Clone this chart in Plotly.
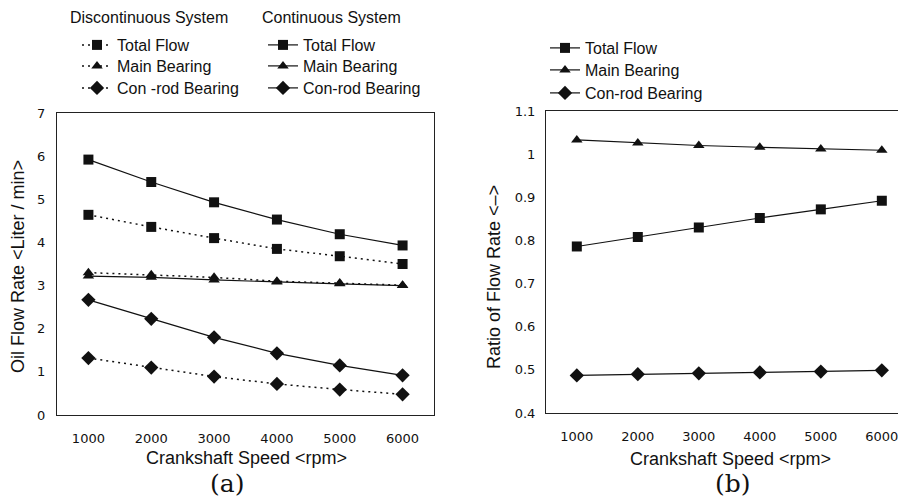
import plotly.graph_objects as go

speeds = [1000, 2000, 3000, 4000, 5000, 6000]
speed_labels = ["1000", "2000", "3000", "4000", "5000", "6000"]

# Panel (a): oil flow rate [L/min]
disc_total = [4.64, 4.36, 4.10, 3.85, 3.68, 3.50]
disc_main = [3.30, 3.25, 3.19, 3.10, 3.06, 3.01]
disc_conrod = [1.32, 1.10, 0.89, 0.72, 0.59, 0.48]
cont_total = [5.92, 5.40, 4.93, 4.53, 4.19, 3.93]
cont_main = [3.22, 3.19, 3.13, 3.08, 3.04, 3.00]
cont_conrod = [2.67, 2.23, 1.80, 1.43, 1.15, 0.92]

# Panel (b): ratio of flow rate
ratio_total = [0.786, 0.808, 0.830, 0.852, 0.872, 0.892]
ratio_main = [1.033, 1.026, 1.020, 1.016, 1.012, 1.009]
ratio_conrod = [0.487, 0.490, 0.492, 0.494, 0.496, 0.499]

disc_names = ["Total Flow", "Main Bearing", "Con -rod Bearing"]
cont_names = ["Total Flow", "Main Bearing", "Con-rod Bearing"]
symbols = ["square", "triangle-up", "diamond"]

SANS = "Liberation Sans, Arial, sans-serif"
TICKF = "DejaVu Sans, Liberation Sans, sans-serif"
SERIF = "DejaVu Serif, Liberation Serif, serif"
BLACK = "#111111"

# page offset compensation (body margin 8px)
W, H, OFF = 898, 494, 8


def fx(px):
    return (px - OFF) / W


def fy(py):
    return 1 - (py - OFF) / H


def msize(sym):
    return 11 if sym == "diamond" else 10


fig = go.Figure()

# legend slots: (text-left x, item centre y) in page pixels
left_rows = [44, 65, 87]
right_rows = [47, 69, 92]
legend_layout = {}
k = 0

groups = [
    ([disc_total, disc_main, disc_conrod], disc_names, "x", "y", dict(width=1.5, dash="2px,4px"), 117, left_rows),
    ([cont_total, cont_main, cont_conrod], cont_names, "x", "y", dict(width=1.2), 303, left_rows),
    ([ratio_total, ratio_main, ratio_conrod], cont_names, "x2", "y2", dict(width=1.2), 585, right_rows),
]

for series, nms, xa, ya, lstyle, text_x, rows in groups:
    for vals, nm, sym, ry in zip(series, nms, symbols, rows):
        k += 1
        lname = "legend" if k == 1 else f"legend{k}"
        fig.add_trace(go.Scatter(
            x=speeds, y=vals, name=nm, mode="lines+markers",
            line=dict(color=BLACK, **lstyle),
            marker=dict(symbol=sym, size=msize(sym), color=BLACK),
            xaxis=xa, yaxis=ya, legend=lname,
        ))
        legend_layout[lname] = dict(
            bgcolor="rgba(0,0,0,0)", borderwidth=0,
            font=dict(family=SANS, size=16, color=BLACK),
            xanchor="left", yanchor="top", itemwidth=30,
            x=fx(text_x - 40), y=fy(ry - 16),
        )

axis_common = dict(
    showgrid=False, zeroline=False, showline=True, linecolor="#222222", linewidth=1,
    mirror=True, ticks="", tickfont=dict(family=TICKF, size=13, color=BLACK),
)


def ann(text, x, y, size, angle=0, family=SANS, xanchor="center"):
    return dict(text=text, x=fx(x), y=fy(y), xref="paper", yref="paper", showarrow=False,
                textangle=angle, xanchor=xanchor, yanchor="middle",
                font=dict(family=family, size=size, color=BLACK))


fig.update_layout(
    width=W, height=H,
    margin=dict(l=0, r=0, t=0, b=0, autoexpand=False),
    paper_bgcolor="white", plot_bgcolor="white",
    font=dict(family=SANS, size=13, color=BLACK),
    xaxis=dict(axis_common, domain=[fx(57), fx(434)], range=[500, 6500],
               tickvals=speeds, ticktext=speed_labels, anchor="y", ticklabelstandoff=11),
    yaxis=dict(axis_common, domain=[fy(415), fy(113)], range=[0, 7], dtick=1, anchor="x",
               ticklabelstandoff=8),
    xaxis2=dict(axis_common, domain=[fx(546), fx(905)], range=[495, 6380],
                tickvals=speeds, ticktext=speed_labels, anchor="y2", ticklabelstandoff=11),
    yaxis2=dict(axis_common, domain=[fy(413), fy(111)], range=[0.4, 1.1], dtick=0.1, anchor="x2",
                ticklabelstandoff=7),
    showlegend=True,
    annotations=[
        ann("Discontinuous System", 68, 18, 16, xanchor="left"),
        ann("Continuous System", 260, 18, 16, xanchor="left"),
        ann("Oil Flow Rate &lt;Liter / min&gt;", 18, 267, 18, angle=-90),
        ann("Ratio of Flow Rate &lt;–&gt;", 494, 277, 18, angle=-90),
        ann("Crankshaft Speed &lt;rpm&gt;", 246, 458, 18),
        ann("Crankshaft Speed &lt;rpm&gt;", 730, 459, 18),
        ann("(a)", 227, 483, 25, family=SERIF),
        ann("(b)", 733, 483, 25, family=SERIF),
    ],
    **legend_layout,
)

fig.write_html("out.html")
